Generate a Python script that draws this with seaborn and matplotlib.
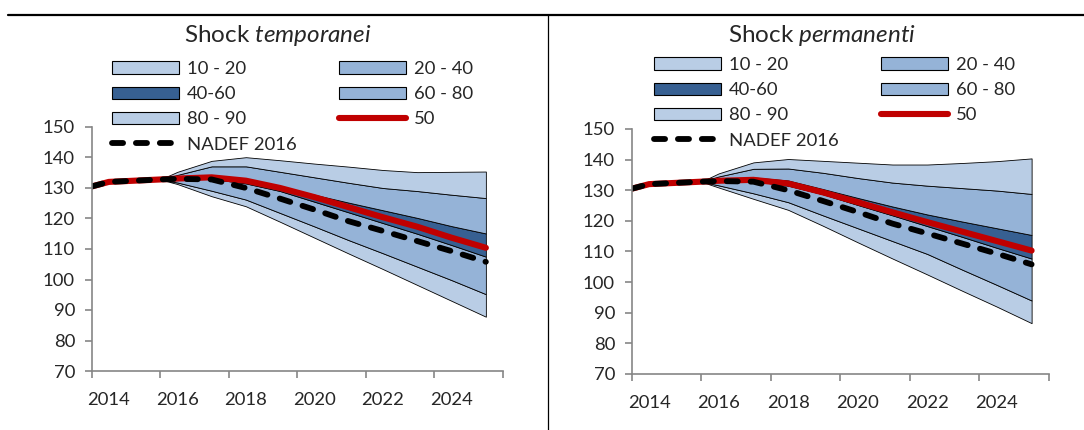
import numpy as np
import pandas as pd
import seaborn as sns
import matplotlib.pyplot as plt
from matplotlib.patches import Patch
from matplotlib.lines import Line2D

# ---- data ----
years = [2013.5, 2014, 2015.5, 2016, 2017, 2018, 2019, 2020, 2021, 2022, 2023, 2024, 2025]

# shock temporanei
temp_p10 = [130.5, 132.0, 132.8, 131.3, 127.3, 124.0, 118.9, 113.7, 108.5, 103.4, 98.2, 93.0, 87.8]
temp_p20 = [130.5, 132.0, 132.8, 131.8, 129.1, 126.2, 121.8, 117.4, 112.9, 108.6, 104.2, 99.8, 95.2]
temp_p40 = [130.5, 132.0, 132.8, 132.8, 133.0, 131.5, 129.0, 125.5, 122.0, 118.5, 115.0, 111.3, 107.5]
temp_p50 = [130.5, 132.0, 132.8, 133.1, 133.5, 132.4, 130.0, 127.0, 123.7, 120.4, 117.3, 113.7, 110.4]
temp_p60 = [130.5, 132.0, 132.8, 133.5, 134.0, 133.0, 130.5, 127.8, 125.2, 122.7, 120.2, 117.5, 115.1]
temp_p80 = [130.5, 132.0, 132.8, 134.3, 137.1, 137.1, 135.3, 133.5, 131.7, 130.0, 129.0, 127.8, 126.7]
temp_p90 = [130.5, 132.0, 132.8, 135.3, 138.9, 140.1, 139.1, 138.0, 137.0, 135.9, 135.2, 135.3, 135.4]

# shock permanenti
perm_p10 = [130.5, 132.0, 132.8, 130.9, 127.2, 123.6, 118.4, 113.0, 107.7, 102.5, 97.2, 92.0, 86.6]
perm_p20 = [130.5, 132.0, 132.8, 131.6, 129.0, 126.1, 121.8, 117.6, 113.4, 109.2, 104.1, 99.1, 94.0]
perm_p40 = [130.5, 132.0, 132.8, 132.8, 133.0, 131.5, 128.7, 125.2, 121.8, 118.3, 114.8, 111.2, 107.7]
perm_p50 = [130.5, 132.0, 132.8, 133.1, 133.4, 132.2, 129.3, 126.1, 122.8, 119.6, 116.5, 113.4, 110.3]
perm_p60 = [130.5, 132.0, 132.8, 133.5, 134.2, 133.2, 130.4, 127.5, 124.7, 122.1, 119.8, 117.6, 115.4]
perm_p80 = [130.5, 132.0, 132.8, 134.5, 137.0, 137.1, 135.7, 134.0, 132.5, 131.5, 130.7, 129.9, 128.8]
perm_p90 = [130.5, 132.0, 132.8, 135.5, 139.1, 140.2, 139.6, 139.0, 138.4, 138.4, 138.9, 139.5, 140.4]

nadef_2016 = [130.5, 132.0, 132.8, 133.0, 132.8, 130.0, 126.5, 122.9, 119.1, 115.9, 112.6, 109.3, 105.8]

band_labels = ["10 - 20", "20 - 40", "40-60", "60 - 80", "80 - 90"]
year_labels = ["2014", "2016", "2018", "2020", "2022", "2024"]

LIGHT = "#B9CDE5"
MID = "#95B3D7"
DARK = "#376092"
RED = "#C00000"
GREY = "#868686"

sns.set_style("white")
plt.rcParams["font.family"] = ["Lato", "DejaVu Sans"]
plt.rcParams["mathtext.fontset"] = "custom"
plt.rcParams["mathtext.rm"] = "Lato"
plt.rcParams["mathtext.it"] = "Lato:italic"

FS = 13.3
RED_LW = 4.4
DASH_LW = 4.2
DASH = (0, (1.9, 2.2))

fig = plt.figure(figsize=(10.84, 4.30), dpi=100)
W, H = 1084, 430


def panel(rect, pcts, p50):
    ax = fig.add_axes(rect)
    p10, p20, p40, p60, p80, p90 = pcts
    bands = [(p10, p20, LIGHT), (p20, p40, MID), (p40, p60, DARK),
             (p60, p80, MID), (p80, p90, LIGHT)]
    for lo, hi, col in bands:
        ax.fill_between(years, lo, hi, facecolor=col, edgecolor="black", linewidth=0.6)

    df = pd.DataFrame({"anno": years, "p50": p50, "nadef": nadef_2016})
    sns.lineplot(data=df, x="anno", y="p50", ax=ax, color=RED, linewidth=RED_LW,
                 solid_capstyle="round")
    sns.lineplot(data=df, x="anno", y="nadef", ax=ax, color="black", linewidth=DASH_LW,
                 linestyle=DASH, dash_capstyle="round")

    ax.set_xlim(2013.5, 2025.5)
    ax.set_ylim(70, 150)
    ax.set_yticks(np.arange(70, 151, 10))
    ax.set_xticks(np.arange(2013.5, 2026, 2))
    ax.set_xticks([int(s) for s in year_labels], minor=True)
    ax.set_xticklabels([], minor=False)
    ax.set_xticklabels(year_labels, minor=True)
    ax.set_xlabel("")
    ax.set_ylabel("")
    ax.tick_params(axis="x", which="major", bottom=True, direction="out",
                   length=5, width=1.2, color=GREY)
    ax.tick_params(axis="x", which="minor", bottom=True, length=0,
                   labelsize=FS, pad=15)
    ax.tick_params(axis="y", left=True, direction="out", length=5, width=1.2,
                   color=GREY, labelsize=FS, pad=7)
    for s in ["top", "right"]:
        ax.spines[s].set_visible(False)
    for s in ["left", "bottom"]:
        ax.spines[s].set_color(GREY)
        ax.spines[s].set_linewidth(1.2)
    return ax


ax1 = panel([91.7 / W, 1 - 371 / H, (503 - 91.7) / W, (371 - 127) / H],
            [temp_p10, temp_p20, temp_p40, temp_p60, temp_p80, temp_p90], temp_p50)
ax2 = panel([631.7 / W, 1 - 374 / H, (1049 - 631.7) / W, (374 - 129) / H],
            [perm_p10, perm_p20, perm_p40, perm_p60, perm_p80, perm_p90], perm_p50)

# legend, row-major order as in the picture (matplotlib fills by column)
def patch(c):
    return Patch(facecolor=c, edgecolor="black", linewidth=0.8)

handles = [patch(LIGHT), patch(DARK), patch(LIGHT),
           Line2D([], [], color="black", lw=DASH_LW, linestyle=DASH, dash_capstyle="round"),
           patch(MID), patch(MID),
           Line2D([], [], color=RED, lw=RED_LW, solid_capstyle="round")]
labels = [band_labels[0], band_labels[2], band_labels[4], "NADEF 2016",
          band_labels[1], band_labels[3], "50"]

for x0, y0 in [(112, 61), (654, 57)]:
    fig.legend(handles, labels, ncol=2, loc="upper left",
               bbox_to_anchor=(x0 / W, 1 - y0 / H), frameon=False,
               borderpad=0, borderaxespad=0, handlelength=3.6, handleheight=0.65,
               handletextpad=0.45, labelspacing=0.5, columnspacing=2.3, fontsize=FS)

# panel titles
fig.text(278 / W, 1 - 35 / H, r"Shock $\mathit{temporanei}$", ha="center", va="center",
         fontsize=17.5)
fig.text(822 / W, 1 - 35 / H, r"Shock $\mathit{permanenti}$", ha="center", va="center",
         fontsize=17.5)

# table rules
fig.add_artist(Line2D([8 / W, 1], [1 - 14.7 / H] * 2, color="black", lw=1.6))
fig.add_artist(Line2D([548 / W] * 2, [0, 1 - 14.7 / H], color="black", lw=0.9))

fig.savefig("out.png", dpi=100)
